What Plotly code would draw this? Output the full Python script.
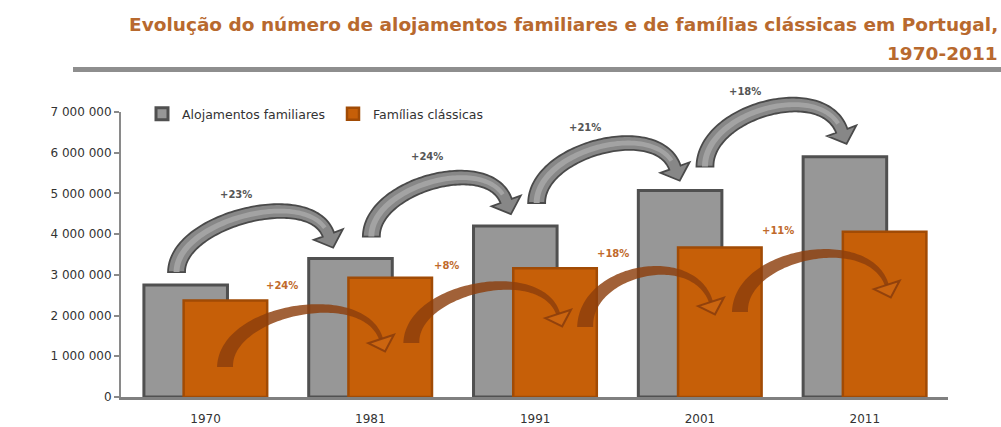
import numpy as np
import plotly.graph_objects as go

# Census values (Portugal, 1970-2011)
years = ["1970", "1981", "1991", "2001", "2011"]
alojamentos = [2_750_000, 3_400_000, 4_200_000, 5_070_000, 5_900_000]
familias = [2_370_000, 2_930_000, 3_160_000, 3_670_000, 4_060_000]

# Growth between consecutive censuses
var_alojamentos = ["+23%", "+24%", "+21%", "+18%"]
var_familias = ["+24%", "+8%", "+18%", "+11%"]

y_ticks = [0, 1_000_000, 2_000_000, 3_000_000, 4_000_000, 5_000_000, 6_000_000, 7_000_000]

# ---- figure geometry ----
W, H = 1001, 427
M_L, M_R, M_T, M_B = 121, 53, 112, 30
X_RANGE = (-0.513, 4.505)
Y_RANGE = (0, 7_000_000)
PW, PH = W - M_L - M_R, H - M_T - M_B

GRAY_FILL, GRAY_LINE = "#979797", "#505050"
ORANGE_FILL, ORANGE_LINE = "#c65f08", "#a14b05"
TITLE_COLOR = "#b8692e"


def px_x(v):
    """Data x -> page pixel."""
    return M_L + (v - X_RANGE[0]) / (X_RANGE[1] - X_RANGE[0]) * PW


def px_y(v):
    """Data y -> page pixel."""
    return H - M_B - (v - Y_RANGE[0]) / (Y_RANGE[1] - Y_RANGE[0]) * PH


def paper_x(p):
    return (p - M_L) / PW


def paper_y(p):
    return (H - M_B - p) / PH


def to_path(points, close=True):
    # paper coordinates, so arrows may rise above the plotting area
    s = "M " + " L ".join(f"{paper_x(x):.5f},{paper_y(y):.5f}" for x, y in points)
    return s + (" Z" if close else "")


def bezier(S, E, u, s, t):
    P0 = np.array(S, float)
    P1 = np.array([S[0], S[1] - s])
    P2 = np.array([E[0] - u[0] * s, E[1] - u[1] * s])
    P3 = np.array(E, float)
    t = t[:, None]
    pts = (1 - t) ** 3 * P0 + 3 * (1 - t) ** 2 * t * P1 + 3 * (1 - t) * t ** 2 * P2 + t ** 3 * P3
    der = 3 * (1 - t) ** 2 * (P1 - P0) + 6 * (1 - t) * t * (P2 - P1) + 3 * t ** 2 * (P3 - P2)
    return pts, der


def curved_arrow(S, E, lift, head_deg, w0, w1, head_w, head_len):
    """Pixel-space curved arrow: centre line, normals, half-widths and head."""
    a = np.radians(head_deg)
    u = np.array([np.cos(a), np.sin(a)])
    t = np.linspace(0, 1, 80)
    lo, hi = 1.0, 500.0
    for _ in range(50):
        mid = (lo + hi) / 2
        pts, _ = bezier(S, E, u, mid, t)
        if S[1] - pts[:, 1].min() < lift:
            lo = mid
        else:
            hi = mid
    pts, der = bezier(S, E, u, (lo + hi) / 2, t)
    tan = der / np.linalg.norm(der, axis=1)[:, None]
    nrm = np.stack([-tan[:, 1], tan[:, 0]], axis=1)
    w = (w0 + (w1 - w0) * t)[:, None] / 2
    n_head = np.array([-u[1], u[0]])
    Ep = np.array(E, float)
    head = [Ep + n_head * head_w / 2, Ep + u * head_len, Ep - n_head * head_w / 2]
    return pts, nrm, w, head


fig = go.Figure()

x_pos = list(range(len(years)))
fig.add_trace(go.Bar(
    x=x_pos, y=alojamentos, name="Alojamentos familiares",
    width=0.507, offset=-0.374,
    marker=dict(color=GRAY_FILL, line=dict(color=GRAY_LINE, width=3)),
))
fig.add_trace(go.Bar(
    x=x_pos, y=familias, name="Famílias clássicas",
    width=0.507, offset=-0.133,
    marker=dict(color=ORANGE_FILL, line=dict(color=ORANGE_LINE, width=2.5)),
))

shapes = []
annotations = []

# Gray arrows between the tops of the "alojamentos" bars (pixel offsets)
g_start = [(-29, -13), (1, -22), (1.5, -23), (5, -24)]
g_end = [(-42, -24), (-29, -25), (-25, -23), (-23, -26)]
g_lift = [61, 59, 60, 62]
g_label = [(59, -78), (56, -80), (48, -76), (40, -75)]
for i in range(4):
    S = (px_x(i) + g_start[i][0], px_y(alojamentos[i]) + g_start[i][1])
    E = (px_x(i + 1) + g_end[i][0], px_y(alojamentos[i + 1]) + g_end[i][1])
    pts, nrm, w, head = curved_arrow(S, E, g_lift[i], 70, 17, 12, 31, 14)
    poly = list(pts + nrm * w) + head + list((pts - nrm * w)[::-1])
    shapes.append(dict(type="path", xref="paper", yref="paper", path=to_path(poly),
                       fillcolor="#878787", line=dict(color="#4a4a4a", width=1.8)))
    # soft highlight along the middle of the shaft
    k = slice(0, -4)
    hl = list(pts[k] + nrm[k] * w[k] * 0.35) + list((pts[k] - nrm[k] * w[k] * 0.35)[::-1])
    shapes.append(dict(type="path", xref="paper", yref="paper", path=to_path(hl),
                       fillcolor="#a3a3a3", line=dict(width=0)))
    annotations.append(dict(
        x=paper_x(S[0] + g_label[i][0]), y=paper_y(S[1] + g_label[i][1]),
        xref="paper", yref="paper", xanchor="center", yanchor="middle",
        text=var_alojamentos[i], showarrow=False,
        font=dict(family="DejaVu Sans", size=10, color="#555555", weight="bold"),
    ))

# Brown arrows linking the "famílias" bars
o_start = [(19.5, 66.5), (41, 65.3), (50, 58.6), (40, 64.4)]
o_end = [(10.7, 61.3), (23, 45.6), (11, 54.4), (22, 53.3)]
o_lift = [58.5, 57.5, 56.5, 58.5]
o_label = [(57, -82), (35.5, -78), (28, -73), (38, -81)]
for i in range(4):
    S = (px_x(i) + o_start[i][0], px_y(familias[i]) + o_start[i][1])
    E = (px_x(i + 1) + o_end[i][0], px_y(familias[i + 1]) + o_end[i][1])
    pts, nrm, w, head = curved_arrow(S, E, o_lift[i], 72, 16, 4, 27, 13)
    shaft = list(pts + nrm * w) + list((pts - nrm * w)[::-1])
    shapes.append(dict(type="path", xref="paper", yref="paper", path=to_path(shaft),
                       fillcolor="rgba(140,62,12,0.82)", line=dict(width=0)))
    shapes.append(dict(type="path", xref="paper", yref="paper", path=to_path(head),
                       fillcolor="rgba(220,120,40,0.25)",
                       line=dict(color="rgba(140,62,12,0.9)", width=2)))
    annotations.append(dict(
        x=paper_x(S[0] + o_label[i][0]), y=paper_y(S[1] + o_label[i][1]),
        xref="paper", yref="paper", xanchor="center", yanchor="middle",
        text=var_familias[i], showarrow=False,
        font=dict(family="DejaVu Sans", size=10, color="#c0692a", weight="bold"),
    ))

# Title block and rule beneath it
title_font = dict(family="DejaVu Sans", size=18.5, color=TITLE_COLOR, weight="bold")
annotations.append(dict(
    x=paper_x(1000), y=paper_y(25), xref="paper", yref="paper", xanchor="right", yanchor="middle",
    text="Evolução do número de alojamentos familiares e de famílias clássicas em Portugal,",
    showarrow=False, font=title_font,
))
annotations.append(dict(
    x=paper_x(1000), y=paper_y(53), xref="paper", yref="paper", xanchor="right", yanchor="middle",
    text="1970-2011", showarrow=False, font=title_font,
))
shapes.append(dict(type="line", xref="paper", yref="paper",
                   x0=paper_x(73), x1=paper_x(W), y0=paper_y(69.5), y1=paper_y(69.5),
                   line=dict(color="#8e8e8e", width=5)))

fig.update_layout(
    width=W, height=H,
    margin=dict(l=M_L, r=M_R, t=M_T, b=M_B, pad=0),
    barmode="overlay",
    paper_bgcolor="white", plot_bgcolor="white",
    separators=", ",
    font=dict(family="DejaVu Sans", color="#333333"),
    showlegend=True,
    legend=dict(orientation="h", x=paper_x(142), y=paper_y(114),
                xanchor="left", yanchor="middle", itemwidth=30, entrywidth=146,
                font=dict(family="DejaVu Sans", size=12.5, color="#333333"),
                bgcolor="rgba(0,0,0,0)"),
    xaxis=dict(range=list(X_RANGE), tickvals=x_pos, ticktext=years, automargin=False,
               showgrid=False, zeroline=False, showline=True, linecolor="#808080", linewidth=3,
               ticks="outside", ticklen=9, tickcolor="rgba(0,0,0,0)",
               tickfont=dict(family="DejaVu Sans", size=12, color="#333333")),
    yaxis=dict(range=list(Y_RANGE), tickvals=y_ticks, tickformat=",d", automargin=False,
               showgrid=False, zeroline=False, showline=True, linecolor="#8a8a8a", linewidth=2,
               ticks="outside", ticklen=5, tickcolor="#8a8a8a", tickwidth=1.5,
               tickfont=dict(family="DejaVu Sans", size=12, color="#333333")),
    shapes=shapes,
    annotations=annotations,
)

fig.write_html("out.html")
